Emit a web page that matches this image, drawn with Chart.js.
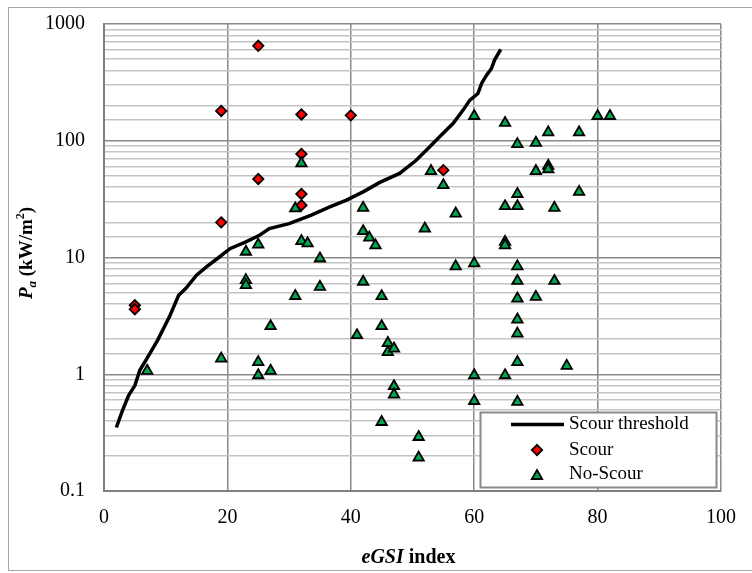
<!DOCTYPE html>
<html>
<head>
<meta charset="utf-8">
<script src="https://cdn.jsdelivr.net/npm/chart.js@4/dist/chart.umd.min.js"></script>
<style>
  html, body { margin: 0; padding: 0; background: #fff; }
  canvas { display: block; }
</style>
</head>
<body>
<canvas id="chart" width="752" height="573"></canvas>
<script>
// Scour threshold curve (eGSI index vs. erodibility power Pa)
const thresholdX = [2, 3, 4, 5, 5.8, 6.8, 8.7, 10.6, 12.1, 13.2, 15, 16.6, 18.7, 20.4, 23, 25.2, 26.8, 30, 33.5, 36.5, 39.3, 42, 44.7, 47.9, 50.6, 52.8, 54.4, 56.6, 58.2, 59.3, 60.6, 61.2, 62, 62.8, 63.3, 64.3];
const thresholdY = [0.35, 0.49, 0.66, 0.8, 1.08, 1.32, 1.96, 3.1, 4.75, 5.4, 7.05, 8.3, 10.1, 11.9, 13.6, 15.5, 17.7, 19.5, 23, 27, 31, 36.5, 44, 52.5, 68, 89, 108, 141, 183, 223, 254, 310, 365, 416, 491, 606];

// Observed scour cases
const scourX = [5, 5, 19, 19, 25, 25, 32, 32, 32, 32, 40, 55];
const scourY = [3.9, 3.6, 20, 180, 47, 650, 168, 77, 35, 28, 165, 56];

// Observed no-scour cases
const noScourX = [7, 19, 23, 23, 23, 25, 25, 25, 27, 27, 31, 31, 32, 32, 33, 35, 35, 41, 42, 42, 42, 43, 44, 45, 45, 45, 46, 46, 47, 47, 47, 51, 51, 52, 53, 55, 57, 57, 60, 60, 60, 60, 65, 65, 65, 65, 65, 67, 67, 67, 67, 67, 67, 67, 67, 67, 67, 70, 70, 70, 72, 72, 72, 73, 73, 75, 77, 77, 80, 82];
const noScourY = [1.07, 1.36, 11.2, 6.4, 5.8, 12.9, 1.27, 0.98, 2.58, 1.07, 26.3, 4.68, 64, 13.8, 13.2, 9.8, 5.6, 2.16, 26.6, 16.8, 6.2, 14.8, 12.7, 4.66, 2.58, 0.39, 1.85, 1.55, 1.66, 0.79, 0.67, 0.29, 0.193, 17.7, 55, 41.6, 23.8, 8.4, 163, 8.9, 0.98, 0.59, 142, 27.5, 13.6, 12.7, 0.98, 93.5, 35, 27.5, 8.4, 6.3, 4.45, 2.94, 2.23, 1.27, 0.58, 96, 55, 4.6, 118, 61, 57, 26.6, 6.3, 1.18, 118, 36.5, 163, 163];

// Axis ticks
const xTickStep = 20;
const yTickValues = [0.1, 1, 10, 100, 1000];
const yTickLabels = ['0.1', '1', '10', '100', '1000'];

const seriesNames = ['Scour threshold', 'Scour', 'No-Scour'];

const SERIF = '"Liberation Serif", "Times New Roman", serif';
const SCOUR_RED = '#ff0000';
const NOSCOUR_GREEN = '#00a650';

const toPoints = (xs, ys) => xs.map((x, i) => ({ x: x, y: ys[i] }));
const isDecade = v => Math.abs(Math.log10(v) - Math.round(Math.log10(v))) < 1e-9;

// Draws a run of differently styled text pieces starting at (x, y) on the baseline
function drawRuns(ctx, runs, x, y) {
  let cx = x;
  runs.forEach(r => {
    ctx.font = r.font;
    ctx.fillText(r.text, cx, y + (r.dy || 0));
    cx += ctx.measureText(r.text).width;
  });
}
function runsWidth(ctx, runs) {
  return runs.reduce((w, r) => { ctx.font = r.font; return w + ctx.measureText(r.text).width; }, 0);
}

function diamondPath(ctx, x, y, r) {
  ctx.beginPath();
  ctx.moveTo(x, y - r); ctx.lineTo(x + r, y); ctx.lineTo(x, y + r); ctx.lineTo(x - r, y);
  ctx.closePath();
}
function trianglePath(ctx, x, y, r) {
  ctx.beginPath();
  for (let k = 0; k < 3; k++) {
    const a = k * 2 * Math.PI / 3;
    const px = x + Math.sin(a) * r, py = y - Math.cos(a) * r;
    if (k === 0) ctx.moveTo(px, py); else ctx.lineTo(px, py);
  }
  ctx.closePath();
}

const decorations = {
  id: 'decorations',
  beforeDraw(chart) {
    const ctx = chart.ctx;
    ctx.save();
    ctx.fillStyle = '#fff';
    ctx.fillRect(0, 0, chart.width, chart.height);
    ctx.restore();
  },
  afterDraw(chart) {
    const ctx = chart.ctx;
    const area = chart.chartArea;
    ctx.save();

    // outer frame
    ctx.strokeStyle = '#a6a6a6';
    ctx.lineWidth = 1;
    ctx.strokeRect(8.5, 7.5, 760, 563);

    ctx.fillStyle = '#000';
    ctx.textBaseline = 'alphabetic';
    ctx.textAlign = 'left';

    // x axis title: eGSI index
    const xRuns = [
      { text: 'eGSI', font: 'italic bold 20px ' + SERIF },
      { text: ' index', font: 'bold 20px ' + SERIF }
    ];
    const xw = runsWidth(ctx, xRuns);
    drawRuns(ctx, xRuns, (area.left + area.right) / 2 - xw / 2 - 4, 563);

    // y axis title: Pa (kW/m2)
    const yRuns = [
      { text: 'P', font: 'italic bold 19px ' + SERIF },
      { text: 'a', font: 'italic bold 13px ' + SERIF, dy: 4 },
      { text: ' (kW/m', font: 'bold 19px ' + SERIF },
      { text: '2', font: 'bold 12px ' + SERIF, dy: -8 },
      { text: ')', font: 'bold 19px ' + SERIF }
    ];
    const yw = runsWidth(ctx, yRuns);
    ctx.translate(32, 253);
    ctx.rotate(-Math.PI / 2);
    drawRuns(ctx, yRuns, -yw / 2, 0);
    ctx.setTransform(1, 0, 0, 1, 0, 0);

    // legend box
    const lx = 480.5, ly = 412.5, lw = 236, lh = 75;
    ctx.fillStyle = '#fff';
    ctx.fillRect(lx, ly, lw, lh);
    ctx.strokeStyle = '#8a8a8a';
    ctx.lineWidth = 2;
    ctx.strokeRect(lx, ly, lw, lh);

    const rowY = [424.5, 450, 474.5];
    const symX = 537;
    const textX = 569;

    ctx.strokeStyle = '#000';
    ctx.lineWidth = 3.5;
    ctx.beginPath();
    ctx.moveTo(511, rowY[0]);
    ctx.lineTo(564, rowY[0]);
    ctx.stroke();

    ctx.lineWidth = 1.8;
    ctx.fillStyle = SCOUR_RED;
    diamondPath(ctx, symX, rowY[1], 5.2);
    ctx.fill(); ctx.stroke();

    ctx.fillStyle = NOSCOUR_GREEN;
    trianglePath(ctx, symX, rowY[2] + 1.5, 6);
    ctx.fill(); ctx.stroke();

    ctx.fillStyle = '#000';
    ctx.font = '19px ' + SERIF;
    ctx.textBaseline = 'middle';
    seriesNames.forEach((name, i) => ctx.fillText(name, textX, rowY[i]));

    ctx.restore();
  }
};

new Chart(document.getElementById('chart'), {
  type: 'scatter',
  data: {
    datasets: [
      {
        label: seriesNames[0],
        data: toPoints(thresholdX, thresholdY),
        showLine: true,
        borderColor: '#000',
        borderWidth: 3.5,
        pointRadius: 0,
        tension: 0,
        fill: false,
        order: 2
      },
      {
        label: seriesNames[1],
        data: toPoints(scourX, scourY),
        pointStyle: 'rectRot',
        pointRadius: 5.2,
        backgroundColor: SCOUR_RED,
        borderColor: '#000',
        borderWidth: 1.8,
        order: 1
      },
      {
        label: seriesNames[2],
        data: toPoints(noScourX, noScourY),
        pointStyle: 'triangle',
        pointRadius: 6,
        backgroundColor: NOSCOUR_GREEN,
        borderColor: '#000',
        borderWidth: 1.8,
        order: 0
      }
    ]
  },
  options: {
    responsive: false,
    animation: false,
    events: [],
    layout: { padding: { left: 0, right: 31, top: 24, bottom: 0 } },
    plugins: {
      legend: { display: false },
      tooltip: { enabled: false },
      title: { display: false }
    },
    scales: {
      x: {
        type: 'linear',
        min: 0,
        max: 100,
        ticks: {
          stepSize: xTickStep,
          padding: 15,
          color: '#000',
          maxRotation: 0,
          font: { family: SERIF, size: 20 }
        },
        grid: { color: '#8a8a8a', lineWidth: 1.5, drawTicks: false },
        border: { color: '#808080', width: 2 },
        afterFit(scale) {
          scale.height = 82;
          scale.paddingLeft = 0;
          scale.paddingRight = 0;
        }
      },
      y: {
        type: 'logarithmic',
        min: 0.1,
        max: 1000,
        ticks: {
          autoSkip: false,
          padding: 19,
          color: '#000',
          font: { family: SERIF, size: 20 },
          callback(value) {
            const i = yTickValues.findIndex(t => Math.abs(t - value) < 1e-9 * t);
            return i >= 0 ? yTickLabels[i] : '';
          }
        },
        grid: {
          color: c => (c.tick && isDecade(c.tick.value)) ? '#8a8a8a' : '#c4c4c4',
          lineWidth: 1.5,
          drawTicks: false
        },
        border: { color: '#808080', width: 2 },
        afterFit(scale) {
          scale.width = 104;
          scale.paddingTop = 0;
          scale.paddingBottom = 0;
        }
      }
    }
  },
  plugins: [decorations]
});
</script>
</body>
</html>
